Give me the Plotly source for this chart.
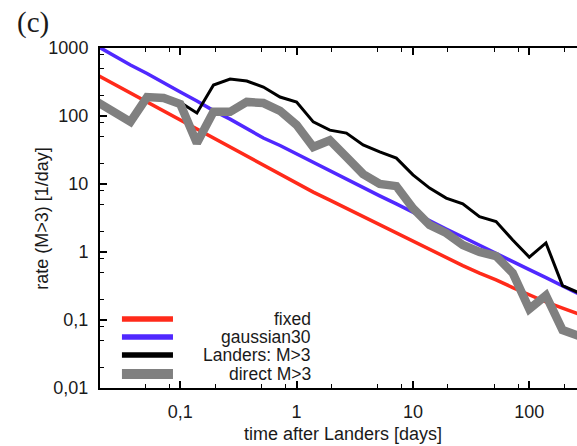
import plotly.graph_objects as go

# time after Landers [days]
t_days = [0.0193, 0.0268, 0.0373, 0.0518, 0.0720, 0.1, 0.139, 0.193, 0.268, 0.373,
          0.518, 0.720, 1.0, 1.39, 1.93, 2.68, 3.73, 5.18, 7.20, 10.0,
          13.9, 19.3, 26.8, 37.3, 51.8, 72.0, 100.0, 139.0, 193.0, 268.0]

fixed = [401, 296, 214, 161, 119, 86, 64, 47.5, 35, 25.4,
         18.7, 13.8, 10.2, 7.6, 5.8, 4.4, 3.27, 2.5, 1.9, 1.43,
         1.07, 0.83, 0.63, 0.49, 0.39, 0.30, 0.233, 0.184, 0.15, 0.122]

gaussian30 = [1070, 776, 562, 422, 305, 225, 166, 120, 90, 65.5,
              47.5, 36.8, 27.6, 20.7, 15.8, 11.9, 8.9, 6.7, 5.1, 3.8,
              2.86, 2.18, 1.66, 1.25, 0.95, 0.72, 0.55, 0.42, 0.32, 0.24]

landers = [161, 115, 82, 190, 184, 158, 111, 286, 350, 327,
           267, 190, 161, 82, 62, 56, 37.5, 29.6, 24, 13.6,
           8.7, 6.2, 5.1, 3.3, 2.8, 1.5, 0.84, 1.36, 0.32, 0.25]

direct = [161, 115, 82, 190, 184, 150, 40, 115, 115, 161,
          155, 119, 74, 35, 44, 25, 14, 10, 9.3, 4.4,
          2.5, 1.9, 1.27, 1.0, 0.87, 0.49, 0.145, 0.23, 0.071, 0.058]

names = ["fixed", "gaussian30", "Landers: M>3", "direct M>3"]
series = [fixed, gaussian30, landers, direct]
colors = ["#ff2a1a", "#5028ff", "#000000", "#808080"]
widths = [3.5, 3.5, 3, 8.5]
legend_widths = [5.5, 5.5, 5.5, 10]

x_tickvals = [0.1, 1, 10, 100]
x_ticktext = ["0,1", "1", "10", "100"]
x_minor = [0.05, 0.08, 0.2, 0.5, 0.8, 2, 5, 8, 20, 50, 80, 200]
y_tickvals = [0.01, 0.1, 1, 10, 100, 1000]
y_ticktext = ["0,01", "0,1", "1", "10", "100", "1000"]
y_minor = [0.02, 0.05, 0.08, 0.2, 0.5, 0.8, 2, 5, 8, 20, 50, 80, 200, 500, 800]

fig = go.Figure()
for name, vals, col, w in zip(names, series, colors, widths):
    fig.add_trace(go.Scatter(x=t_days, y=vals, mode="lines", name=name,
                             line=dict(color=col, width=w), showlegend=False))

font_main = "Liberation Sans, Arial, Helvetica, sans-serif"
txt_col = "#1a1a1a"

fig.update_xaxes(
    type="log", range=[-1.69, 2.41],
    tickmode="array", tickvals=x_tickvals, ticktext=x_ticktext,
    ticks="inside", ticklen=7, tickwidth=1.5, tickcolor="#000",
    minor=dict(tickmode="array", tickvals=x_minor, ticks="inside",
               ticklen=4, tickwidth=1.2, tickcolor="#000", showgrid=False),
    showline=True, linecolor="#000", linewidth=2, mirror="ticks",
    showgrid=False, zeroline=False,
    tickfont=dict(family=font_main, size=18, color=txt_col),
    ticklabelstandoff=6,
)
fig.update_yaxes(
    type="log", range=[-2, 3],
    tickmode="array", tickvals=y_tickvals, ticktext=y_ticktext,
    ticks="inside", ticklen=7, tickwidth=1.5, tickcolor="#000",
    minor=dict(tickmode="array", tickvals=y_minor, ticks="inside",
               ticklen=4, tickwidth=1.2, tickcolor="#000", showgrid=False),
    showline=True, linecolor="#000", linewidth=2,
    showgrid=False, zeroline=False,
    tickfont=dict(family=font_main, size=18, color=txt_col),
    ticklabelstandoff=6,
)

annotations = [
    dict(text="(c)", xref="paper", yref="paper", x=-0.14, y=1.075,
         xanchor="center", yanchor="middle", showarrow=False,
         font=dict(family="Liberation Serif, Times New Roman, serif", size=29, color=txt_col)),
    dict(text="time after Landers [days]", xref="paper", yref="paper",
         x=0.51, y=-0.135, xanchor="center", yanchor="middle", showarrow=False,
         font=dict(family=font_main, size=18, color=txt_col)),
    dict(text="rate (M>3) [1/day]", xref="paper", yref="paper",
         x=-0.122, y=0.5, xanchor="center", yanchor="middle", showarrow=False,
         textangle=-90, font=dict(family=font_main, size=18, color=txt_col)),
]

shapes = []
leg_y = [0.203, 0.150, 0.097, 0.041]
for name, col, lw, yy in zip(names, colors, legend_widths, leg_y):
    shapes.append(dict(type="line", xref="paper", yref="paper",
                       x0=0.046, x1=0.153, y0=yy, y1=yy,
                       line=dict(color=col, width=lw)))
    annotations.append(dict(text=name, xref="paper", yref="paper",
                            x=0.447, y=yy, xanchor="right", yanchor="middle",
                            showarrow=False,
                            font=dict(family=font_main, size=17.5, color=txt_col)))

fig.update_layout(
    width=577, height=446,
    margin=dict(l=100, r=0, t=48, b=58, pad=0),
    paper_bgcolor="white", plot_bgcolor="white",
    annotations=annotations, shapes=shapes,
    showlegend=False,
)

fig.write_html("out.html")
